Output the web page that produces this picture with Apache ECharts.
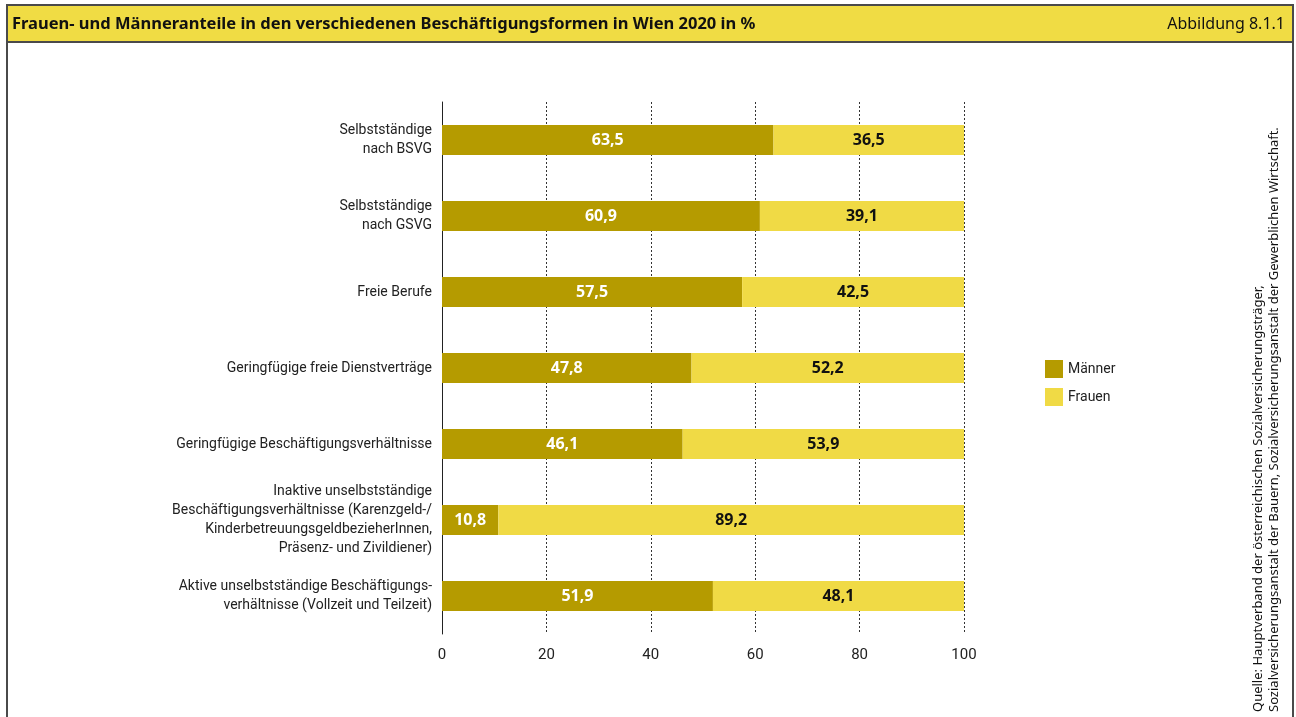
<!DOCTYPE html>
<html>
<head>
<meta charset="utf-8">
<script src="https://cdn.jsdelivr.net/npm/echarts@6/dist/echarts.min.js"></script>
<style>
  html, body { margin: 0; padding: 0; background: #fff; }
  #chart { width: 1296px; height: 717px; }
</style>
</head>
<body>
<div id="chart"></div>
<script>
const categories = [
  'Selbstständige\nnach BSVG',
  'Selbstständige\nnach GSVG',
  'Freie Berufe',
  'Geringfügige freie Dienstverträge',
  'Geringfügige Beschäftigungsverhältnisse',
  'Inaktive unselbstständige\nBeschäftigungsverhältnisse (Karenzgeld-/\nKinderbetreuungsgeldbezieherInnen,\nPräsenz- und Zivildiener)',
  'Aktive unselbstständige Beschäftigungs-\nverhältnisse (Vollzeit und Teilzeit)'
];
const maenner = [63.5, 60.9, 57.5, 47.8, 46.1, 10.8, 51.9];
const frauen = [36.5, 39.1, 42.5, 52.2, 53.9, 89.2, 48.1];
const xTicks = [0, 20, 40, 60, 80, 100];

const FONT = 'Roboto, "Noto Sans", sans-serif';
const FONT_WIDE = '"Noto Sans", Roboto, sans-serif';
const fmt = v => String(v.toFixed(1)).replace('.', ',');

const chart = echarts.init(document.getElementById('chart'));

const option = {
  backgroundColor: '#fff',
  animation: false,
  textStyle: { fontFamily: FONT },
  grid: { left: 442, right: 332, top: 102, bottom: 83, containLabel: false },
  legend: {
    orient: 'vertical',
    left: 1040,
    top: 355,
    itemWidth: 18,
    itemHeight: 18,
    itemGap: 10,
    icon: 'rect',
    textStyle: { fontFamily: FONT, fontSize: 14, color: '#222' },
    data: ['Männer', 'Frauen']
  },
  xAxis: {
    type: 'value',
    min: 0,
    max: 100,
    interval: 20,
    axisLine: { show: false },
    axisTick: { show: false },
    axisLabel: {
      margin: 14,
      fontSize: 15,
      color: '#222',
      fontFamily: FONT,
      formatter: v => xTicks.includes(v) ? String(v) : ''
    },
    splitLine: { show: true, lineStyle: { type: [2, 2], color: '#333', width: 1 } }
  },
  yAxis: {
    type: 'category',
    inverse: true,
    data: categories,
    axisLine: { show: true, lineStyle: { color: '#222', width: 1 } },
    axisTick: { show: false },
    axisLabel: {
      margin: 10,
      fontSize: 14,
      lineHeight: 19,
      color: '#222',
      align: 'right',
      fontFamily: FONT
    }
  },
  series: [
    {
      name: 'Männer',
      type: 'bar',
      stack: 'total',
      barWidth: 30,
      data: maenner,
      itemStyle: { color: '#B59B00' },
      label: {
        show: true,
        position: 'inside',
        color: '#fff',
        fontWeight: 'bold',
        fontSize: 16,
        fontFamily: FONT_WIDE,
        formatter: p => fmt(p.value)
      }
    },
    {
      name: 'Frauen',
      type: 'bar',
      stack: 'total',
      barWidth: 30,
      data: frauen,
      itemStyle: { color: '#F0DA45' },
      label: {
        show: true,
        position: 'inside',
        color: '#111',
        fontWeight: 'bold',
        fontSize: 16,
        fontFamily: FONT_WIDE,
        formatter: p => fmt(p.value)
      }
    }
  ],
  graphic: [
    {
      type: 'rect',
      shape: { x: 7, y: 5, width: 1286, height: 37 },
      style: { fill: '#F0DC44', stroke: '#4a4a4a', lineWidth: 2 },
      z: 10
    },
    {
      type: 'line',
      shape: { x1: 7, y1: 42, x2: 7, y2: 717 },
      style: { stroke: '#4a4a4a', lineWidth: 2 },
      z: 10
    },
    {
      type: 'line',
      shape: { x1: 1293, y1: 42, x2: 1293, y2: 717 },
      style: { stroke: '#4a4a4a', lineWidth: 2 },
      z: 10
    },
    {
      type: 'text',
      x: 12,
      y: 24,
      z: 11,
      style: {
        text: 'Frauen- und Männeranteile in den verschiedenen Beschäftigungsformen in Wien 2020 in %',
        fontFamily: FONT_WIDE,
        fontWeight: 'bold',
        fontSize: 16.5,
        fill: '#111',
        textVerticalAlign: 'middle'
      }
    },
    {
      type: 'text',
      x: 1285,
      y: 24,
      z: 11,
      style: {
        text: 'Abbildung 8.1.1',
        fontFamily: FONT_WIDE,
        fontSize: 16,
        fill: '#111',
        textAlign: 'right',
        textVerticalAlign: 'middle'
      }
    },
    {
      type: 'text',
      x: 1266,
      y: 712,
      rotation: Math.PI / 2,
      z: 11,
      style: {
        text: 'Quelle: Hauptverband der österreichischen Sozialversicherungsträger,\nSozialversicherungsanstalt der Bauern, Sozialversicherungsanstalt der Gewerblichen Wirtschaft.',
        fontFamily: FONT_WIDE,
        fontSize: 13,
        lineHeight: 16,
        fill: '#111',
        textAlign: 'left',
        textVerticalAlign: 'middle'
      }
    }
  ]
};

chart.setOption(option);
</script>
</body>
</html>
